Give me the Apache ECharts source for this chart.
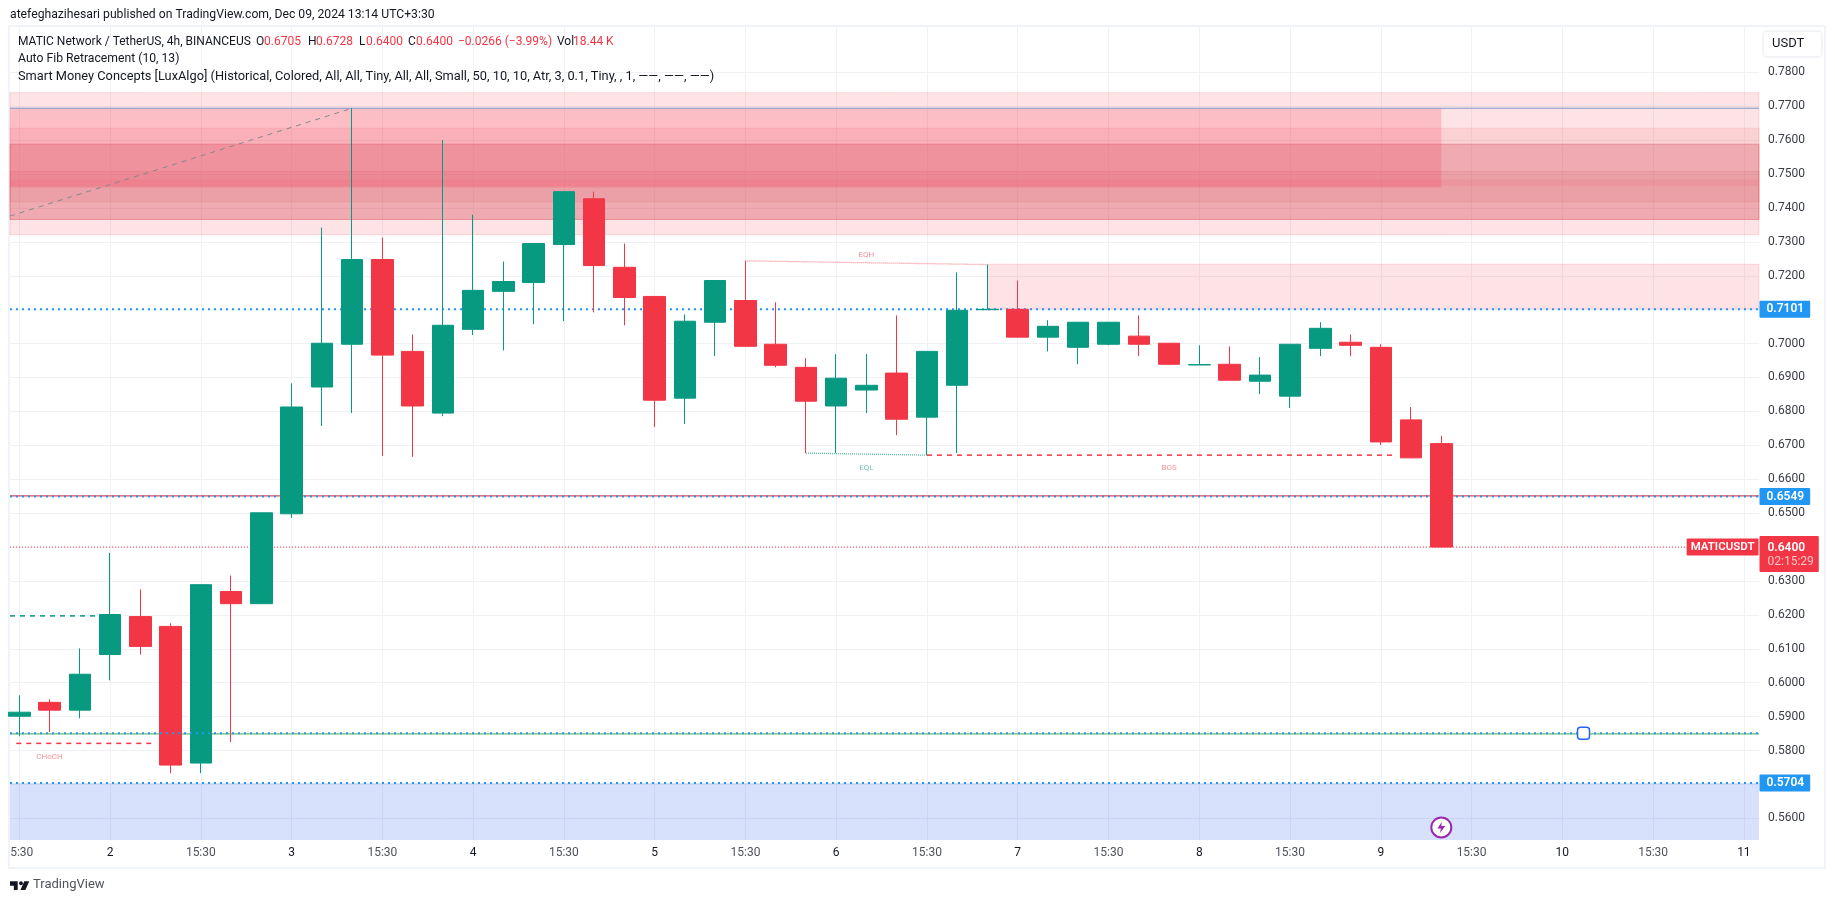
<!DOCTYPE html>
<html><head><meta charset="utf-8">
<style>html,body{margin:0;padding:0;background:#fff}#c{width:1835px;height:903px}</style>
<script src="https://cdn.jsdelivr.net/npm/echarts@6/dist/echarts.min.js"></script>
</head><body><div id="c"></div>
<script>
// ---- candle data (4h) ----
const candleIndex=[0,1,2,3,4,5,6,7,8,9,10,11,12,13,14,15,16,17,18,19,20,21,22,23,24,25,26,27,28,29,30,31,32,33,34,35,36,37,38,39,40,41,42,43,44,45,46,47];
const opens =[.5901,.5942,.5919,.6083,.6195,.6166,.5763,.6269,.6233,.6498,.6872,.6998,.7248,.6977,.6795,.7042,.7154,.7180,.7292,.7427,.7225,.7139,.6839,.7063,.7127,.6998,.6930,.6816,.6863,.6913,.6783,.6877,.7100,.7101,.7019,.6989,.6998,.7022,.7001,.6937,.6939,.6889,.6845,.6986,.7004,.6989,.6775,.6705];
const closes=[.5913,.5919,.6025,.6201,.6107,.5757,.6289,.6233,.6501,.6813,.7001,.7248,.6966,.6816,.7054,.7157,.7183,.7295,.7448,.7230,.7136,.6833,.7066,.7186,.6992,.6936,.6830,.6898,.6877,.6777,.6977,.7098,.7101,.7019,.7051,.7063,.7063,.6998,.6939,.6938,.6892,.6907,.6998,.7045,.6995,.6710,.6663,.6400];
const lows  =[.5842,.5854,.5895,.6007,.6083,.5733,.5733,.5825,.6233,.6486,.6757,.6795,.6669,.6666,.6786,.7025,.6980,.7057,.7066,.7092,.7054,.6754,.6763,.6963,.6992,.6930,.6677,.6677,.6795,.6730,.6671,.6677,.7100,.7019,.6977,.6939,.6995,.6963,.6939,.6937,.6892,.6851,.6810,.6963,.6963,.6701,.6663,.6400];
const highs =[.5963,.5951,.6101,.6383,.6275,.6175,.6289,.6316,.6501,.6883,.7342,.7694,.7313,.7027,.7600,.7380,.7242,.7295,.7448,.7448,.7295,.7139,.7086,.7186,.7244,.7122,.6957,.6969,.6969,.7083,.6977,.7210,.7233,.7186,.7069,.7063,.7063,.7083,.7001,.6995,.6992,.6960,.6998,.7063,.7027,.6998,.6813,.6728];
// ---- axes ----
const xTickValues=[0,3,6,9,12,15,18,21,24,27,30,33,36,39,42,45,48,51,54,57];
const xTickLabels=['5:30','2','15:30','3','15:30','4','15:30','5','15:30','6','15:30','7','15:30','8','15:30','9','15:30','10','15:30','11'];
const yTickValues=[.56,.57,.58,.59,.60,.61,.62,.63,.64,.65,.66,.67,.68,.69,.70,.71,.72,.73,.74,.75,.76,.77,.78];
const xMin=-0.307,xMax=57.5,yMin=0.55361,yMax=0.79336;
// ---- zones: [x0,x1,top,bottom] ----
const zoneA=[xMin,xMax,.7740,.7321];
const zoneB=[xMin,xMax,.7635,.7366];
const zoneC=[xMin,xMax,.7588,.7366];
const zoneG=[xMin,xMax,.7508,.7418];
const zoneH=[xMin,xMax,.7484,.7465];
const zoneLeft=[xMin,47,.7694,.7460];
const zoneSupply=[32,xMax,.7234,.7102];
const zoneDemand=[xMin,xMax,.5704,yMin];
// ---- level lines: [x0,y0,x1,y1] ----
const levelHigh=[xMin,.7694,xMax,.7694];
const fibDiagonal=[xMin,.7376,11,.7694];
const dotted7101=[xMin,.7101,xMax,.7101];
const dotted6549=[xMin,.6549,xMax,.6549];
const dotted5851=[xMin,.5851,xMax,.5851];
const dotted5704=[xMin,.5704,xMax,.5704];
const solid6551=[xMin,.6551,xMax,.6551];
const solid5849=[xMin,.5849,xMax,.5849];
const lastPrice=[xMin,.64,xMax,.64];
const dashGreen=[xMin,.6197,3,.6197];
const dashChoch=[-0.1,.5821,4.4,.5821];
const dashBos=[30,.6671,45.4,.6671];
const dotEqh=[24,.7244,32,.7233];
const dotEql=[26,.6677,30,.6671];
// ---- small labels ----
const smcLabels=[['CHoCH',1,.5780,'#f7919a'],['EQH',28,.7261,'#f7919a'],['EQL',28,.6634,'#6fc4b5'],['BOS',38,.6634,'#f7919a']];
const anchorPoint=[51.7,.5851];
const boltPoint=[47,.5573];
// ---- header legend: [text, left, colour] ----
const ohlcLegend=[['MATIC Network / TetherUS, 4h, BINANCEUS',18,'k'],['O',256,'k'],['0.6705',264,'r'],['H',308,'k'],['0.6728',316,'r'],['L',359,'k'],['0.6400',366,'r'],['C',408,'k'],['0.6400',416,'r'],['\u22120.0266 (\u22123.99%)',458,'r'],['Vol',557,'k'],['18.44 K',573,'r']];
const FONT='Roboto, "Liberation Sans", sans-serif';
const UP='#089981',DOWN='#F23645';

const candleData=candleIndex.map((x,i)=>[x,opens[i],closes[i],lows[i],highs[i]]);
const zoneItem=(z,fill,border)=>[{coord:[z[0],z[2]],itemStyle:{color:fill,borderColor:border,borderWidth:border?1:0}},{coord:[z[1],z[3]]}];
const zoneSeries=(z,fill,border,zz)=>({type:'line',data:[],z:zz||1,silent:true,markArea:{silent:true,z:zz||1,data:[zoneItem(z,fill,border)]}});
const lineSeries=(l,color,width,type,zz)=>({type:'line',data:[[l[0],l[1]],[l[2],l[3]]],symbol:'none',silent:true,z:zz||3,lineStyle:{color,width,type},clip:true});
const tag=(x,y,label)=>({value:[x,y],label});
const priceTag=(text,y)=>tag(xMax,y,{show:true,position:'right',distance:0,formatter:text,color:'#fff',fontWeight:600,fontSize:12,fontFamily:FONT,backgroundColor:'#2196F3',padding:[3,6,2,7],borderRadius:1});

const chart=echarts.init(document.getElementById('c'),null,{renderer:'canvas'});
chart.setOption({
  animation:false,backgroundColor:'#fff',
  grid:{left:10,right:76,top:27,bottom:63,containLabel:false},
  xAxis:{type:'value',min:xMin,max:xMax,
    axisLine:{show:false},
    axisTick:{show:false,customValues:xTickValues},
    splitLine:{show:true,lineStyle:{color:'#f0f1f4',width:1}},
    axisLabel:{show:true,customValues:xTickValues,margin:7,color:'#50535e',fontSize:12,fontFamily:FONT,showMinLabel:true,showMaxLabel:true,hideOverlap:false,
      formatter:v=>{const s=xTickLabels[xTickValues.indexOf(v)]||'';return v===0?'{first|'+s+'}':(s==='15:30'?s:'{day|'+s+'}');},
      rich:{first:{padding:[0,0,0,5],color:'#50535e',fontSize:12,fontFamily:FONT},day:{color:'#131722',fontSize:12,fontFamily:FONT}}}},
  yAxis:{type:'value',position:'right',min:yMin,max:yMax,scale:true,
    axisLine:{show:false},
    axisTick:{show:false,customValues:yTickValues},
    splitLine:{show:true,lineStyle:{color:'#f0f1f4',width:1}},
    axisLabel:{show:true,customValues:yTickValues,margin:9,color:'#3a3d47',fontSize:12,fontFamily:FONT,formatter:v=>v.toFixed(4)}},
  series:[
    zoneSeries(zoneA,'rgba(242,54,69,0.14)','rgba(242,54,69,0.16)'),
    zoneSeries(zoneB,'rgba(242,54,69,0.10)','rgba(242,54,69,0.10)'),
    zoneSeries(zoneC,'rgba(200,60,70,0.25)','rgba(200,60,70,0.3)'),
    zoneSeries(zoneG,'rgba(210,60,70,0.10)','rgba(200,60,70,0.1)'),
    zoneSeries(zoneH,'rgba(242,54,69,0.08)',null),
    zoneSeries(zoneLeft,'rgba(245,60,85,0.22)',null),
    zoneSeries(zoneSupply,'rgba(242,54,69,0.14)','rgba(242,54,69,0.16)'),
    zoneSeries(zoneDemand,'rgba(41,98,240,0.19)',null),
    lineSeries(solid6551,'#e2434f',1.2,'solid',2),
    lineSeries(solid5849,'#66bb6a',1.2,'solid',2),
    lineSeries(levelHigh,'#7f9bcf',1,'solid',3),
    lineSeries(fibDiagonal,'#84878f',1,[5,5],3),
    lineSeries(dotted7101,'#2196F3',2,[2,4],3),
    lineSeries(dotted6549,'#2196F3',2,[2,4],3),
    lineSeries(dotted5704,'#2196F3',2,[2,4],3),
    lineSeries(lastPrice,'#F23645',1,[1,2],3),
    lineSeries(dashGreen,UP,1.5,[5,5],3),
    lineSeries(dashChoch,DOWN,1.5,[5,5],3),
    lineSeries(dashBos,DOWN,1.5,[5,5],3),
    lineSeries(dotEqh,'#f58a93',1.3,[1,1],3),
    lineSeries(dotEql,'#4fb5a3',1.3,[1,1],3),
    {type:'candlestick',z:5,silent:true,barWidth:22,clip:true,encode:{x:0,y:[1,2,3,4]},data:candleData,
      itemStyle:{color:UP,color0:DOWN,borderColor:UP,borderColor0:DOWN,borderWidth:1}},
    lineSeries(dotted5851,'#2196F3',2,[2,4],6),
    {type:'scatter',z:7,silent:true,symbol:'roundRect',symbolSize:12,data:[anchorPoint],itemStyle:{color:'#fff',borderColor:'#2962FF',borderWidth:1.5,opacity:1}},
    {type:'scatter',z:7,silent:true,symbol:'circle',symbolSize:20,data:[boltPoint],itemStyle:{color:'#fff',borderColor:'#9C27B0',borderWidth:2,opacity:1}},
    {type:'scatter',z:8,silent:true,symbol:'path://M13 1 L3 14 H11 L9 23 L21 9 H12 Z',symbolSize:[8,11],data:[boltPoint],itemStyle:{color:'#9C27B0',opacity:1}},
    {type:'scatter',z:8,silent:true,symbolSize:1,itemStyle:{color:'transparent',opacity:1},clip:false,
      data:smcLabels.map(l=>tag(l[1],l[2],{show:true,position:'inside',formatter:l[0],color:l[3],fontSize:8,fontFamily:FONT}))},
    {type:'scatter',z:20,silent:true,symbolSize:1,itemStyle:{color:'transparent',opacity:1},clip:false,
      data:[priceTag('0.7101',.7101),priceTag('0.6549',.6549),priceTag('0.5704',.5704),
        tag(xMax,.64,{show:true,position:'right',distance:0,offset:[0,7],formatter:'{a|0.6400}\n{b|02:15:29}',backgroundColor:'#F23645',padding:[4,5,3,8],borderRadius:1,
          rich:{a:{color:'#fff',fontWeight:600,fontSize:12,fontFamily:FONT,lineHeight:15},b:{color:'#fbc4c9',fontSize:12,fontFamily:FONT,lineHeight:14}}}),
        tag(xMax,.64,{show:true,position:'left',distance:0,offset:[0,0],formatter:'MATICUSDT',color:'#fff',fontWeight:600,fontSize:11.5,fontFamily:FONT,backgroundColor:'#F23645',padding:[3,4,2,4],borderRadius:1})]}
  ],
  graphic:[
    {type:'rect',z:0,silent:true,shape:{x:9,y:26,width:1816,height:842},style:{fill:'none',stroke:'#f0f3fa',lineWidth:2}},
    {type:'rect',z:30,silent:true,shape:{x:1763,y:31,width:59,height:26,r:4},style:{fill:'#fff',stroke:'#eef0f5',lineWidth:1.5}},
    {type:'text',z:31,silent:true,x:1772,y:37,style:{text:'USDT',fill:'#131722',font:'13px '+FONT}},
    {type:'text',z:31,silent:true,x:10,y:9,style:{text:'atefeghazihesari published on TradingView.com, Dec 09, 2024 13:14 UTC+3:30',fill:'#131722',font:'12.2px '+FONT}},
    ...ohlcLegend.map(l=>({type:'text',z:31,silent:true,x:l[1],y:36,style:{text:l[0],fill:l[2]==='r'?DOWN:'#131722',font:'12px '+FONT}})),
    {type:'text',z:31,silent:true,x:18,y:53,style:{text:'Auto Fib Retracement (10, 13)',fill:'#131722',font:'12.2px '+FONT}},
    {type:'text',z:31,silent:true,x:18,y:70,style:{text:'Smart Money Concepts [LuxAlgo] (Historical, Colored, All, All, Tiny, All, All, Small, 50, 10, 10, Atr, 3, 0.1, Tiny, , 1, \u2014\u2014, \u2014\u2014, \u2014\u2014)',fill:'#131722',font:'12.8px '+FONT}},
    {type:'polygon',z:31,silent:true,x:10,y:878,scaleX:0.55,scaleY:0.55,shape:{points:[[0,6],[14,6],[14,22],[7,22],[7,14],[0,14]]},style:{fill:'#131722'}},
    {type:'polygon',z:31,silent:true,x:10,y:878,scaleX:0.55,scaleY:0.55,shape:{points:[[19,22],[28,22],[35,6],[26,6]]},style:{fill:'#131722'}},
    {type:'circle',z:31,silent:true,x:10,y:878,scaleX:0.55,scaleY:0.55,shape:{cx:20,cy:9.5,r:3.5},style:{fill:'#131722'}},
    {type:'text',z:31,silent:true,x:33,y:878,style:{text:'TradingView',fill:'#50535e',font:'13px '+FONT}}
  ]
});
</script></body></html>
